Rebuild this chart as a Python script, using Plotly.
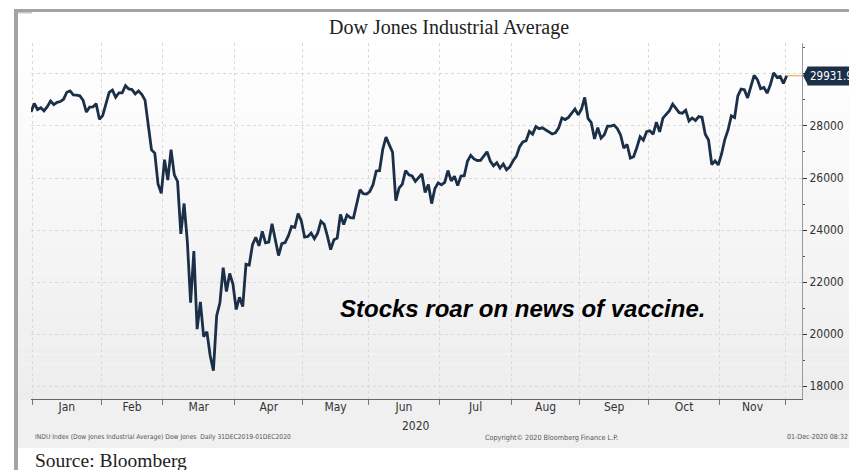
import plotly.graph_objects as go

# ---------------- data (DJIA daily closes, 31 Dec 2019 - 01 Dec 2020) ----------------
days_dec19 = [31]
close_dec19 = [28538.44]

days_jan = [2, 3, 6, 7, 8, 9, 10, 13, 14, 15, 16, 17, 21, 22, 23, 24, 27, 28, 29, 30, 31]
close_jan = [28868.80, 28634.88, 28703.38, 28583.68, 28745.09, 28956.90, 28823.77, 28907.05,
             28939.67, 29030.22, 29297.64, 29348.10, 29196.04, 29186.27, 29160.09, 28989.73,
             28535.80, 28722.85, 28734.45, 28859.44, 28256.03]

days_feb = [3, 4, 5, 6, 7, 10, 11, 12, 13, 14, 18, 19, 20, 21, 24, 25, 26, 27, 28]
close_feb = [28399.81, 28807.63, 29290.85, 29379.77, 29102.51, 29276.82, 29276.34, 29551.42,
             29423.31, 29398.08, 29232.19, 29348.03, 29219.98, 28992.41, 27960.80, 27081.36,
             26957.59, 25766.64, 25409.36]

days_mar = [2, 3, 4, 5, 6, 9, 10, 11, 12, 13, 16, 17, 18, 19, 20, 23, 24, 25, 26, 27, 30, 31]
close_mar = [26703.32, 25917.41, 27090.86, 26121.28, 25864.78, 23851.02, 25018.16, 23553.22,
             21200.62, 23185.62, 20188.52, 21237.38, 19898.92, 20087.19, 19173.98, 18591.93,
             20704.91, 21200.55, 22552.17, 21636.78, 22327.48, 21917.16]

days_apr = [1, 2, 3, 6, 7, 8, 9, 13, 14, 15, 16, 17, 20, 21, 22, 23, 24, 27, 28, 29, 30]
close_apr = [20943.51, 21413.44, 21052.53, 22679.99, 22653.86, 23433.57, 23719.37, 23390.77,
             23949.76, 23504.35, 23537.68, 24242.49, 23650.44, 23018.88, 23475.82, 23515.26,
             23775.27, 24133.78, 24101.55, 24633.86, 24345.72]

days_may = [1, 4, 5, 6, 7, 8, 11, 12, 13, 14, 15, 18, 19, 20, 21, 22, 26, 27, 28, 29]
close_may = [23723.69, 23749.76, 23883.09, 23664.64, 23875.89, 24331.32, 24221.99, 23764.78,
             23247.97, 23625.34, 23685.42, 24597.37, 24206.86, 24575.90, 24474.12, 24465.16,
             24995.11, 25548.27, 25400.64, 25383.11]

days_jun = [1, 2, 3, 4, 5, 8, 9, 10, 11, 12, 15, 16, 17, 18, 19, 22, 23, 24, 25, 26, 29, 30]
close_jun = [25475.02, 25742.65, 26269.89, 26281.82, 27110.98, 27572.44, 27272.30, 26989.99,
             25128.17, 25605.54, 25763.16, 26289.98, 26119.61, 26080.10, 25871.46, 26024.96,
             26156.10, 25445.94, 25745.60, 25015.55, 25595.80, 25812.88]

days_jul = [1, 2, 6, 7, 8, 9, 10, 13, 14, 15, 16, 17, 20, 21, 22, 23, 24, 27, 28, 29, 30, 31]
close_jul = [25734.97, 25827.36, 26287.03, 25890.18, 26067.28, 25706.09, 26075.30, 26085.80,
             26642.59, 26870.10, 26734.71, 26671.95, 26680.87, 26840.40, 27005.84, 26652.33,
             26469.89, 26584.77, 26379.28, 26539.57, 26313.65, 26428.32]

days_aug = [3, 4, 5, 6, 7, 10, 11, 12, 13, 14, 17, 18, 19, 20, 21, 24, 25, 26, 27, 28, 31]
close_aug = [26664.40, 26828.47, 27201.52, 27386.98, 27433.48, 27791.44, 27686.91, 27976.84,
             27896.72, 27931.02, 27844.91, 27778.07, 27692.88, 27739.73, 27930.33, 28308.46,
             28248.44, 28331.92, 28492.27, 28653.87, 28430.05]

days_sep = [1, 2, 3, 4, 8, 9, 10, 11, 14, 15, 16, 17, 18, 21, 22, 23, 24, 25, 28, 29, 30]
close_sep = [28645.66, 29100.50, 28292.73, 28133.31, 27500.89, 27940.47, 27534.58, 27665.64,
             27993.33, 27995.60, 28032.38, 27901.98, 27657.42, 27147.70, 27288.18, 26763.13,
             26815.44, 27173.96, 27584.06, 27452.66, 27781.70]

days_oct = [1, 2, 5, 6, 7, 8, 9, 12, 13, 14, 15, 16, 19, 20, 21, 22, 23, 26, 27, 28, 29, 30]
close_oct = [27816.90, 27682.81, 28148.64, 27772.76, 28303.46, 28425.51, 28586.90, 28837.52,
             28679.81, 28514.00, 28494.20, 28606.31, 28195.42, 28308.79, 28210.82, 28363.66,
             28335.57, 27685.38, 27463.19, 26519.95, 26659.11, 26501.60]

days_nov = [2, 3, 4, 5, 6, 9, 10, 11, 12, 13, 16, 17, 18, 19, 20, 23, 24, 25, 27, 30]
close_nov = [26925.05, 27480.03, 27847.66, 28390.18, 28323.40, 29157.97, 29420.92, 29397.63,
             29080.17, 29479.81, 29950.44, 29783.35, 29438.42, 29483.23, 29263.48, 29591.27,
             30046.24, 29872.47, 29910.37, 29638.64]

days_dec = [1]
close_dec = [29931.9]

month_labels = ["Jan", "Feb", "Mar", "Apr", "May", "Jun", "Jul", "Aug", "Sep", "Oct", "Nov"]
y_tick_values = [18000, 20000, 22000, 24000, 26000, 28000, 30000]
y_tick_labels = ["18000", "20000", "22000", "24000", "26000", "28000", ""]
last_label = "29931.9"
title_text = "Dow Jones Industrial Average"
note_text = "Stocks roar on news of vaccine."
source_text = "Source: Bloomberg"
footer_left = "INDU Index (Dow Jones Industrial Average) Dow Jones  Daily 31DEC2019-01DEC2020"
footer_mid = "Copyright\u00a9 2020 Bloomberg Finance L.P."
footer_right = "01-Dec-2020 08:32"
year_label = "2020"

# ---------------- assemble trading-day series ----------------
blocks = [
    ("2019-12", days_dec19, close_dec19), ("2020-01", days_jan, close_jan),
    ("2020-02", days_feb, close_feb), ("2020-03", days_mar, close_mar),
    ("2020-04", days_apr, close_apr), ("2020-05", days_may, close_may),
    ("2020-06", days_jun, close_jun), ("2020-07", days_jul, close_jul),
    ("2020-08", days_aug, close_aug), ("2020-09", days_sep, close_sep),
    ("2020-10", days_oct, close_oct), ("2020-11", days_nov, close_nov),
    ("2020-12", days_dec, close_dec),
]
dates, closes, month_start_idx = [], [], []
for ym, d, c in blocks:
    month_start_idx.append(len(dates))
    dates += [f"{ym}-{x:02d}" for x in d]
    closes += c
idx = list(range(len(closes)))

# month boundaries (between last day of a month and first day of next)
boundaries = [s - 0.5 for s in month_start_idx[1:]]          # Jan ... Dec starts
centers = [(boundaries[i] + boundaries[i + 1]) / 2 for i in range(len(month_labels))]

# ---------------- geometry ----------------
W, H = 849, 470
ML, MR, MT, MB = 31, 47, 43, 71
PW, PH = W - ML - MR, H - MT - MB
X_RANGE = [0, 236.7]
Y_RANGE = [17500, 31192]


def pxx(px):
    return (px - ML) / PW


def pxy(py):
    return (H - MB - py) / PH


TICK_FONT = dict(family="DejaVu Sans Condensed, DejaVu Sans, sans-serif", size=12, color="#333333")
NAVY = "#1b2f48"
GRID = "#d9d9d9"

fig = go.Figure()
fig.add_trace(go.Scatter(
    x=idx, y=closes, mode="lines",
    line=dict(color=NAVY, width=2.8),
    customdata=dates, hovertemplate="%{customdata}: %{y}<extra></extra>",
    showlegend=False,
))

shapes = []
# gradient background (white -> light gray)
top_px, bot_px = 43, 399
nb = 40
for i in range(nb):
    y0 = top_px + (bot_px - top_px) * i / nb
    y1 = top_px + (bot_px - top_px) * (i + 1) / nb
    g = round(255 - (255 - 237) * (i + 0.5) / nb)
    shapes.append(dict(type="rect", xref="paper", yref="paper", layer="below",
                       x0=pxx(18), x1=pxx(849), y0=pxy(y1), y1=pxy(y0),
                       fillcolor=f"rgb({g},{g},{g})", line=dict(width=0)))
shapes.append(dict(type="rect", xref="paper", yref="paper", layer="below",
                   x0=pxx(18), x1=pxx(849), y0=pxy(448), y1=pxy(399),
                   fillcolor="rgb(240,240,240)", line=dict(width=0)))
# outer frame (gray top line and left bar)
shapes.append(dict(type="rect", xref="paper", yref="paper", layer="above",
                   x0=pxx(14), x1=pxx(849), y0=pxy(12), y1=pxy(9),
                   fillcolor="#a3a3a3", line=dict(width=0)))
shapes.append(dict(type="rect", xref="paper", yref="paper", layer="above",
                   x0=pxx(14), x1=pxx(18), y0=pxy(470), y1=pxy(9),
                   fillcolor="#a3a3a3", line=dict(width=0)))
shapes.append(dict(type="rect", xref="paper", yref="paper", layer="above",
                   x0=pxx(18), x1=pxx(32), y0=pxy(13.5), y1=pxy(12),
                   fillcolor="#c8c8c8", line=dict(width=0)))
# last-value connector line
shapes.append(dict(type="line", xref="x", yref="y", x0=idx[-1], x1=X_RANGE[1],
                   y0=closes[-1], y1=closes[-1], line=dict(color="#e3a03a", width=1)))
# last-value arrow tip
shapes.append(dict(type="path", xref="paper", yref="y", xsizemode="pixel", ysizemode="pixel",
                   xanchor=1.0, yanchor=closes[-1],
                   path="M 1,0 L 6,9.5 L 6,-9.5 Z", fillcolor=NAVY, line=dict(width=0)))

annotations = [
    dict(text=title_text, xref="paper", yref="paper", x=pxx(449), y=pxy(28),
         showarrow=False, xanchor="center", yanchor="middle",
         font=dict(family="Liberation Serif, Times New Roman, serif", size=20, color="#222222")),
    dict(text=f"<b><i>{note_text}</i></b>", xref="x", yref="y", x=151, y=21000,
         showarrow=False, xanchor="center", yanchor="middle",
         font=dict(family="Liberation Sans, Arial, sans-serif", size=24, color="#000000")),
    dict(text=last_label, xref="paper", yref="y", x=pxx(807), y=closes[-1],
         showarrow=False, xanchor="left", yanchor="middle", bgcolor=NAVY, borderpad=2,
         font=dict(family=TICK_FONT["family"], size=11.5, color="#ffffff")),
    dict(text=year_label, xref="paper", yref="paper", x=pxx(416), y=pxy(426),
         showarrow=False, xanchor="center", yanchor="middle", font=TICK_FONT),
    dict(text=footer_left, xref="paper", yref="paper", x=pxx(33), y=pxy(437),
         showarrow=False, xanchor="left", yanchor="middle",
         font=dict(family="DejaVu Sans Condensed, DejaVu Sans, sans-serif", size=6.7, color="#555555")),
    dict(text=footer_mid, xref="paper", yref="paper", x=pxx(483), y=pxy(437),
         showarrow=False, xanchor="left", yanchor="middle",
         font=dict(family="DejaVu Sans Condensed, DejaVu Sans, sans-serif", size=7.2, color="#555555")),
    dict(text=footer_right, xref="paper", yref="paper", x=pxx(785), y=pxy(437),
         showarrow=False, xanchor="left", yanchor="middle",
         font=dict(family="DejaVu Sans Condensed, DejaVu Sans, sans-serif", size=7, color="#555555")),
    dict(text=source_text, xref="paper", yref="paper", x=pxx(33), y=pxy(460),
         showarrow=False, xanchor="left", yanchor="middle",
         font=dict(family="Liberation Serif, Times New Roman, serif", size=19.5, color="#222222")),
]

fig.update_layout(
    width=W, height=H,
    margin=dict(l=ML, r=MR, t=MT, b=MB, pad=0, autoexpand=False),
    paper_bgcolor="#ffffff", plot_bgcolor="rgba(0,0,0,0)",
    shapes=shapes, annotations=annotations,
    showlegend=False,
    xaxis=dict(
        range=X_RANGE, showgrid=False, zeroline=False,
        tickmode="array", tickvals=centers, ticktext=month_labels, ticks="",
        tickfont=TICK_FONT, ticklabelstandoff=-3,
        showline=True, linecolor="#666666", linewidth=1,
        minor=dict(tickmode="array", tickvals=[0.5] + boundaries[1:], ticks="outside",
                   ticklen=5, tickcolor="#777777", showgrid=True,
                   gridcolor=GRID, griddash="dot", gridwidth=1),
    ),
    yaxis=dict(
        range=Y_RANGE, side="right", zeroline=False,
        tickmode="array", tickvals=y_tick_values, ticktext=y_tick_labels,
        ticks="outside", ticklen=4, tickcolor="#333333", tickfont=TICK_FONT,
        showgrid=True, gridcolor=GRID, griddash="dot", gridwidth=1,
        showline=True, linecolor="#999999", linewidth=1,
        minor=dict(tickmode="linear", tick0=17000, dtick=2000, ticks="outside",
                   ticklen=2, tickcolor="#555555", showgrid=False),
    ),
)

fig.write_html(
    "out.html",
    config={"displayModeBar": False},
    post_script="document.body.style.margin='0';document.body.style.overflow='hidden';",
)
